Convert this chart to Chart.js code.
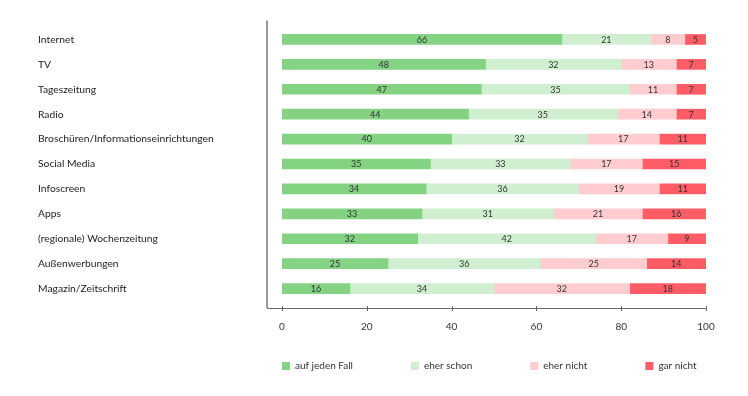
<!DOCTYPE html>
<html>
<head>
<meta charset="utf-8">
<script src="https://cdn.jsdelivr.net/npm/chart.js@4"></script>
<style>
html,body{margin:0;padding:0;background:#fff;}
#wrap{width:748px;height:396px;}
</style>
</head>
<body>
<div id="wrap"><canvas id="c" width="748" height="396"></canvas></div>
<script>
const categories = ["Internet","TV","Tageszeitung","Radio","Broschüren/Informationseinrichtungen","Social Media","Infoscreen","Apps","(regionale) Wochenzeitung","Außenwerbungen","Magazin/Zeitschrift"];
const aufJedenFall = [66,48,47,44,40,35,34,33,32,25,16];
const eherSchon    = [21,32,35,35,32,33,36,31,42,36,34];
const eherNicht    = [8,13,11,14,17,17,19,21,17,25,32];
const garNicht     = [5,7,7,7,11,15,11,16,9,14,18];
const seriesNames  = ["auf jeden Fall","eher schon","eher nicht","gar nicht"];
const seriesColors = ["#83D383","#D0EFD0","#FFCCD0","#FF5C66"];
const xTicks = [0,20,40,60,80,100];

const FONT = "Lato, 'Open Sans', sans-serif";
const LEGEND_PAD = 58;

const axisLines = {
  id: 'axisLines',
  afterLayout(chart) {
    // place the legend row under the plot: first box aligned with x = 0
    const lg = chart.legend;
    const dx = chart.chartArea.left - LEGEND_PAD - lg.left;
    lg.left += dx; lg.right = chart.width + 300;
    lg.top = chart.chartArea.bottom + 66 - LEGEND_PAD - 6;
    lg.bottom = chart.height;
  },
  afterDatasetsDraw(chart) {
    const {ctx, chartArea} = chart;
    const x = chart.scales.x;
    const left = chartArea.left - 15;
    const bottom = chartArea.bottom + 7;
    ctx.save();
    ctx.strokeStyle = '#9a9a9a';
    ctx.lineWidth = 2;
    ctx.beginPath();
    ctx.moveTo(left, chartArea.top - 6.5);
    ctx.lineTo(left, bottom);
    ctx.stroke();
    ctx.strokeStyle = '#666';
    ctx.lineWidth = 1;
    ctx.beginPath();
    ctx.moveTo(left, bottom + 0.5);
    ctx.lineTo(chartArea.right, bottom + 0.5);
    xTicks.forEach(v => {
      const px = Math.round(x.getPixelForValue(v)) + 0.5;
      ctx.moveTo(px, bottom - 2);
      ctx.lineTo(px, bottom + 3);
    });
    ctx.stroke();
    ctx.restore();
  }
};

const valueLabels = {
  id: 'valueLabels',
  afterDatasetsDraw(chart) {
    const {ctx} = chart;
    ctx.save();
    ctx.font = "9px " + FONT;
    ctx.fillStyle = '#333';
    ctx.textAlign = 'center';
    ctx.textBaseline = 'middle';
    chart.data.datasets.forEach((ds, di) => {
      const meta = chart.getDatasetMeta(di);
      meta.data.forEach((bar, i) => {
        const l = Math.min(bar.x, bar.base), r = Math.max(bar.x, bar.base);
        ctx.fillText(String(ds.data[i]), (l + r) / 2, bar.y + 0.5);
      });
    });
    ctx.restore();
  }
};

new Chart(document.getElementById('c'), {
  type: 'bar',
  data: {
    labels: categories,
    datasets: [aufJedenFall, eherSchon, eherNicht, garNicht].map((d, i) => ({
      label: seriesNames[i],
      data: d,
      backgroundColor: seriesColors[i],
      borderWidth: 0,
      barThickness: 10
    }))
  },
  options: {
    indexAxis: 'y',
    responsive: false,
    animation: false,
    devicePixelRatio: 1,
    layout: { padding: { left: 38, right: 42, top: 27, bottom: 23 } },
    scales: {
      x: {
        stacked: true,
        min: 0, max: 100,
        afterBuildTicks(scale) { scale.ticks = xTicks.map(v => ({value: v})); },
        grid: { display: false, drawTicks: false },
        border: { display: false },
        ticks: { padding: 20, color: '#333', font: { family: FONT, size: 10 } }
      },
      y: {
        stacked: true,
        afterFit(scale) { scale.width = 244; },
        grid: { display: false, drawTicks: false },
        border: { display: false },
        ticks: { crossAlign: 'far', color: '#222', font: { family: FONT, size: 10.3 } }
      }
    },
    plugins: {
      legend: {
        position: 'bottom',
        align: 'start',
        maxHeight: 20,
        labels: {
          boxWidth: 8, boxHeight: 8, padding: LEGEND_PAD,
          color: '#333',
          font: { family: FONT, size: 10 }
        }
      },
      tooltip: { enabled: false }
    }
  },
  plugins: [axisLines, valueLabels]
});
</script>
</body>
</html>
